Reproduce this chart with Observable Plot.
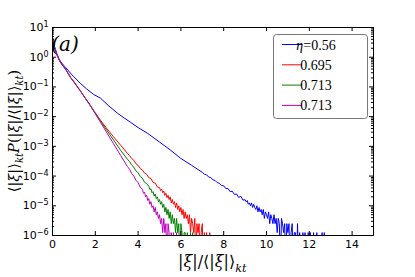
<!DOCTYPE html>
<html><head><meta charset="utf-8">
<script src="https://cdn.jsdelivr.net/npm/d3@7"></script>
<script src="https://cdn.jsdelivr.net/npm/@observablehq/plot@0.6"></script>
<style>body{margin:0;background:#fff} svg{display:block;background:#fff}</style>
</head><body><div id="chart"></div>
<script>
// [x, P] pairs; 1e-7 marks empty bins (line drops off the bottom)
const blue = [[0,4.6],[0.05,3.1],[0.1,2.2],[0.2,1.35],[0.3,0.9],[0.37,0.73],[0.5,0.55],[0.61,0.46],[0.84,0.29],[1.0,0.22],[1.31,0.13],[1.6,0.085],[1.92,0.056],[2.24,0.042],[2.6,0.024],[3.04,0.013],[3.3,9.5e-3],[3.64,6.5e-3],[4.0,4.3e-3],[4.44,2.75e-3],[5.0,1.4e-3],[5.5,7.6e-4],[5.98,4e-4],[6.5,2.3e-4],
[7.0,1.33e-4],[7.1,1.15e-4],[7.2,1.1e-4],[7.3,9.3e-5],[7.4,8.8e-5],[7.5,7.5e-5],[7.6,7.1e-5],[7.7,6.0e-5],[7.8,5.7e-5],[7.9,4.8e-5],[8.0,4.7e-5],[8.1,3.8e-5],[8.2,3.8e-5],[8.3,3.0e-5],[8.4,3.1e-5],[8.5,2.4e-5],[8.6,2.5e-5],[8.7,1.9e-5],[8.8,2.1e-5],[8.9,1.55e-5],[9.0,1.6e-5],
[9.05,1.375e-5],[9.1,1.5e-5],[9.15,1.125e-5],[9.2,1.25e-5],[9.25,1e-5],[9.3,1.25e-5],[9.35,8.75e-6],[9.4,1.125e-5],[9.45,8.75e-6],[9.5,7.5e-6],[9.55,1e-5],[9.6,6.25e-6],[9.65,8.75e-6],[9.7,6.25e-6],[9.75,7.5e-6],[9.8,5e-6],[9.85,7.5e-6],[9.9,3.75e-6],[9.95,6.25e-6],[10.0,5e-6],
[10.05,3.75e-6],[10.1,6.25e-6],[10.15,2.5e-6],[10.2,5e-6],[10.25,3.75e-6],[10.3,2.5e-6],[10.35,5e-6],[10.4,2.5e-6],[10.45,3.75e-6],[10.5,1.25e-6],[10.55,3.75e-6],[10.6,2.5e-6],[10.65,1e-7],[10.7,3.75e-6],[10.75,2.5e-6],[10.8,1.25e-6],[10.85,2.5e-6],[10.9,1e-7],[10.95,2.5e-6],[11.0,1.25e-6],
[11.05,2.5e-6],[11.1,1e-7],[11.15,1.25e-6],[11.2,2.5e-6],[11.25,1e-7],[11.3,1.25e-6],[11.35,1.25e-6],[11.4,1e-7],[11.45,2.5e-6],[11.5,1e-7],[11.55,1.25e-6],[11.6,1e-7],[11.65,1e-7],[11.7,1.25e-6],[11.75,1e-7],[11.8,1.25e-6],[11.85,1e-7],[11.9,1e-7],[11.95,1.25e-6],[12.0,1e-7],
[12.05,1.25e-6],[12.1,1e-7],[12.15,1e-7],[12.2,1.25e-6],[12.25,1e-7],[12.3,1e-7],[12.35,1.25e-6],[12.4,1e-7],[12.45,1e-7],[12.5,1e-7],[12.55,1e-7],[12.6,1.25e-6],[12.65,1e-7],[12.7,1.25e-6],[12.75,1e-7]];

const red = [[0,4.5],[0.05,3.0],[0.1,2.1],[0.2,1.25],[0.3,0.85],[0.37,0.68],[0.5,0.5],[0.61,0.4],[0.84,0.21],[1.0,0.148],[1.31,0.072],[1.5,0.045],[1.78,0.023],[2.0,0.0135],[2.24,7.6e-3],[2.5,4.3e-3],[2.85,2.1e-3],[3.18,1.1e-3],[3.5,5.8e-4],
[3.6,4.9e-4],[3.7,3.9e-4],[3.8,3.4e-4],[3.9,2.6e-4],[4.0,2.3e-4],[4.1,1.8e-4],[4.2,1.6e-4],[4.3,1.26e-4],[4.4,1.15e-4],[4.5,8.8e-5],[4.6,8.2e-5],[4.7,6.1e-5],[4.8,5.8e-5],[4.9,4.3e-5],
[5.0,4.125e-5],[5.05,3.25e-5],[5.1,3.625e-5],[5.15,2.75e-5],[5.2,3.125e-5],[5.25,2.25e-5],[5.3,2.625e-5],[5.35,1.875e-5],[5.4,2.25e-5],[5.45,1.625e-5],[5.5,2e-5],[5.55,1.25e-5],[5.6,1.625e-5],[5.65,1.125e-5],[5.7,1.375e-5],[5.75,8.75e-6],[5.8,1.25e-5],[5.85,7.5e-6],[5.9,1e-5],[5.95,6.25e-6],
[6.0,8.75e-6],[6.05,5e-6],[6.1,7.5e-6],[6.15,3.75e-6],[6.2,6.25e-6],[6.25,3.75e-6],[6.3,5e-6],[6.35,2.5e-6],[6.4,5e-6],[6.45,1.25e-6],[6.5,3.75e-6],[6.55,2.5e-6],[6.6,1.25e-6],[6.65,3.75e-6],[6.7,1e-7],[6.75,2.5e-6],[6.8,1.25e-6],[6.85,2.5e-6],[6.9,1e-7],[6.95,1.25e-6],
[7.0,2.5e-6],[7.05,1e-7],[7.1,1.25e-6],[7.15,1e-7],[7.2,1.25e-6],[7.25,1e-7],[7.3,1e-7],[7.35,1.25e-6],[7.4,1e-7]];

const green = [[0,4.5],[0.05,3.0],[0.1,2.1],[0.2,1.25],[0.3,0.85],[0.37,0.68],[0.5,0.5],[0.61,0.4],[0.84,0.21],[1.0,0.148],[1.31,0.072],[1.5,0.045],[1.78,0.023],[2.0,0.013],[2.24,7.0e-3],[2.5,3.8e-3],[2.85,1.65e-3],[3.18,7.4e-4],[3.5,3.7e-4],
[3.6,3.1e-4],[3.7,2.35e-4],[3.8,2.0e-4],[3.9,1.5e-4],[4.0,1.3e-4],[4.1,9.7e-5],[4.2,8.6e-5],[4.3,6.2e-5],[4.4,5.6e-5],
[4.5,4.5e-5],[4.55,3.5e-5],[4.6,3.75e-5],[4.65,2.75e-5],[4.7,3e-5],[4.75,2.125e-5],[4.8,2.5e-5],[4.85,1.75e-5],[4.9,2e-5],[4.95,1.375e-5],[5.0,1.625e-5],[5.05,1.125e-5],[5.1,1.375e-5],[5.15,8.75e-6],[5.2,1.125e-5],[5.25,6.25e-6],[5.3,8.75e-6],[5.35,5e-6],[5.4,7.5e-6],[5.45,3.75e-6],
[5.5,6.25e-6],[5.55,2.5e-6],[5.6,5e-6],[5.65,2.5e-6],[5.7,3.75e-6],[5.75,1.25e-6],[5.8,3.75e-6],[5.85,1.25e-6],[5.9,2.5e-6],[5.95,1e-7],[6.0,2.5e-6],[6.05,1.25e-6],[6.1,1e-7],[6.15,1.25e-6],[6.2,1.25e-6],[6.25,1e-7],[6.3,1.25e-6],[6.35,1e-7],[6.4,1e-7],[6.45,1.25e-6],[6.5,1e-7],[6.55,1.25e-6],[6.6,1e-7]];

const magenta = [[0,4.5],[0.05,3.0],[0.1,2.1],[0.2,1.25],[0.3,0.85],[0.37,0.68],[0.5,0.5],[0.61,0.4],[0.84,0.21],[1.0,0.148],[1.31,0.072],[1.5,0.045],[1.78,0.023],[2.0,0.0125],[2.24,6.5e-3],[2.5,3.2e-3],[2.85,1.23e-3],[3.18,5e-4],[3.5,2.1e-4],
[3.6,1.7e-4],[3.7,1.22e-4],[3.8,1.0e-4],[3.9,7.2e-5],[4.0,6.0e-5],[4.1,4.2e-5],
[4.2,3.625e-5],[4.25,2.625e-5],[4.3,2.875e-5],[4.35,2e-5],[4.4,2.25e-5],[4.45,1.5e-5],[4.5,1.75e-5],[4.55,1.125e-5],[4.6,1.375e-5],[4.65,8.75e-6],[4.7,1e-5],[4.75,6.25e-6],[4.8,8.75e-6],[4.85,5e-6],[4.9,6.25e-6],[4.95,3.75e-6],[5.0,5e-6],[5.05,2.5e-6],[5.1,3.75e-6],[5.15,1.25e-6],
[5.2,3.75e-6],[5.25,1.25e-6],[5.3,2.5e-6],[5.35,1e-7],[5.4,2.5e-6],[5.45,1.25e-6],[5.5,1e-7],[5.55,1.25e-6],[5.6,1e-7],[5.65,1.25e-6],[5.7,1e-7],[5.75,1e-7],[5.8,1.25e-6],[5.85,1e-7]];

const seriesLabels = ["=0.56", "0.695", "0.713", "0.713"];
const seriesColors = ["#0000ff", "#ff0000", "#008000", "#bf00bf"];
const xTicks = [0, 2, 4, 6, 8, 10, 12, 14];
const yTicks = [1e-6, 1e-5, 1e-4, 1e-3, 1e-2, 1e-1, 1e0, 1e1];
const yMinor = yTicks.slice(0, -1).flatMap(d => [2,3,4,5,6,7,8,9].map(k => k * d));

const W = 415, H = 277, mL = 52, mR = 42, mT = 27, mB = 42;
const fw = W - mL - mR, fh = H - mT - mB;
const lineOpts = (c) => ({x: d => d[0], y: d => d[1], stroke: c, strokeWidth: 1, clip: true});

const svg = Plot.plot({
  width: W, height: H,
  marginLeft: mL, marginRight: mR, marginTop: mT, marginBottom: mB,
  style: {background: "#fff", color: "#000"},
  x: {domain: [0, 15]},
  y: {type: "log", domain: [1e-6, 10]},
  marks: [
    Plot.line(blue, lineOpts(seriesColors[0])),
    Plot.line(red, lineOpts(seriesColors[1])),
    Plot.line(green, lineOpts(seriesColors[2])),
    Plot.line(magenta, lineOpts(seriesColors[3])),
    Plot.tickX(xTicks, {x: d => d, insetTop: fh - 4, stroke: "#000"}),
    Plot.tickX(xTicks, {x: d => d, insetBottom: fh - 4, stroke: "#000"}),
    Plot.tickY(yTicks, {y: d => d, insetRight: fw - 4, stroke: "#000"}),
    Plot.tickY(yTicks, {y: d => d, insetLeft: fw - 4, stroke: "#000"}),
    Plot.tickY(yMinor, {y: d => d, insetRight: fw - 2, stroke: "#000"}),
    Plot.tickY(yMinor, {y: d => d, insetLeft: fw - 2, stroke: "#000"}),
    Plot.frame({stroke: "#000", strokeWidth: 1}),
    Plot.axisX({ticks: xTicks, tickSize: 0, tickPadding: 5, fontSize: 11, label: null, tickFormat: d => String(d)}),
    Plot.axisY({ticks: yTicks, tickSize: 0, tickPadding: 4, fontSize: 11, label: null, tickFormat: d => String(Math.round(Math.log10(d)))})
  ]
});
svg.style.fontFamily = "DejaVu Sans";
document.getElementById("chart").appendChild(svg);

svg.querySelectorAll('[aria-label="y-axis tick label"] text').forEach(t => {
  const e = t.textContent;
  const exp = e.startsWith("-") ? "\u2212" + e.slice(1) : e;
  t.textContent = "";
  const a = document.createElementNS("http://www.w3.org/2000/svg", "tspan");
  a.textContent = "10";
  const b = document.createElementNS("http://www.w3.org/2000/svg", "tspan");
  b.textContent = exp;
  b.setAttribute("dy", "-0.5em");
  b.setAttribute("font-size", "8");
  t.appendChild(a); t.appendChild(b);
});

const s = d3.select(svg);
const serif = "'DejaVu Serif', serif";
function mathText(g, parts, size) {
  parts.forEach(([txt, style]) => {
    const sp = g.append("tspan").text(txt);
    if (style.includes("i")) sp.attr("font-style", "italic");
    if (style.includes("_")) sp.attr("font-size", size * 0.7).attr("dy", size * 0.3);
    if (style.includes("^")) sp.attr("dy", -size * 0.3);
  });
}
const yl = s.append("text").attr("text-anchor", "start").attr("font-family", serif)
  .attr("font-size", 14.5).attr("fill", "#000");
mathText(yl, [["⟨|",""],["ξ","i"],["|⟩",""],["kt","i_"],["P","i^"],["(|",""],["ξ","i"],["|/⟨|",""],["ξ","i"],["|⟩",""],["kt","i_"],[")","^"]], 14.5);
const yb = yl.node().getBBox();
yl.attr("transform", `translate(19,${mT + fh / 2 + yb.x + yb.width / 2}) rotate(-90)`);

const xl = s.append("text").attr("text-anchor", "start").attr("font-family", serif)
  .attr("font-size", 16).attr("fill", "#000");
mathText(xl, [["|",""],["ξ","i"],["|/⟨|",""],["ξ","i"],["|⟩",""],["kt","i_"]], 16);
const xb = xl.node().getBBox();
xl.attr("transform", `translate(${mL + fw / 2 - xb.x - xb.width / 2},267)`);

s.append("text").attr("x", 65).attr("y", 51).attr("font-family", serif).attr("font-size", 20)
  .attr("font-style", "italic").attr("fill", "#000").text("(a)");
const lg = s.append("g");
lg.append("rect").attr("x", 273.5).attr("y", 34.5).attr("width", 94).attr("height", 84).attr("rx", 3)
  .attr("fill", "#fff").attr("stroke", "#777");
seriesLabels.forEach((lab, i) => {
  const y = 44.5 + i * 20.3;
  lg.append("line").attr("x1", 282).attr("x2", 302).attr("y1", y).attr("y2", y)
    .attr("stroke", seriesColors[i]).attr("stroke-width", 1);
  const t = lg.append("text").attr("x", 316).attr("y", y + 5).attr("font-family", "'Liberation Serif', serif")
    .attr("font-size", 14).attr("fill", "#000");
  if (i === 0) t.append("tspan").attr("font-style", "italic").text("η");
  t.append("tspan").text(lab);
});
</script>
</body></html>
